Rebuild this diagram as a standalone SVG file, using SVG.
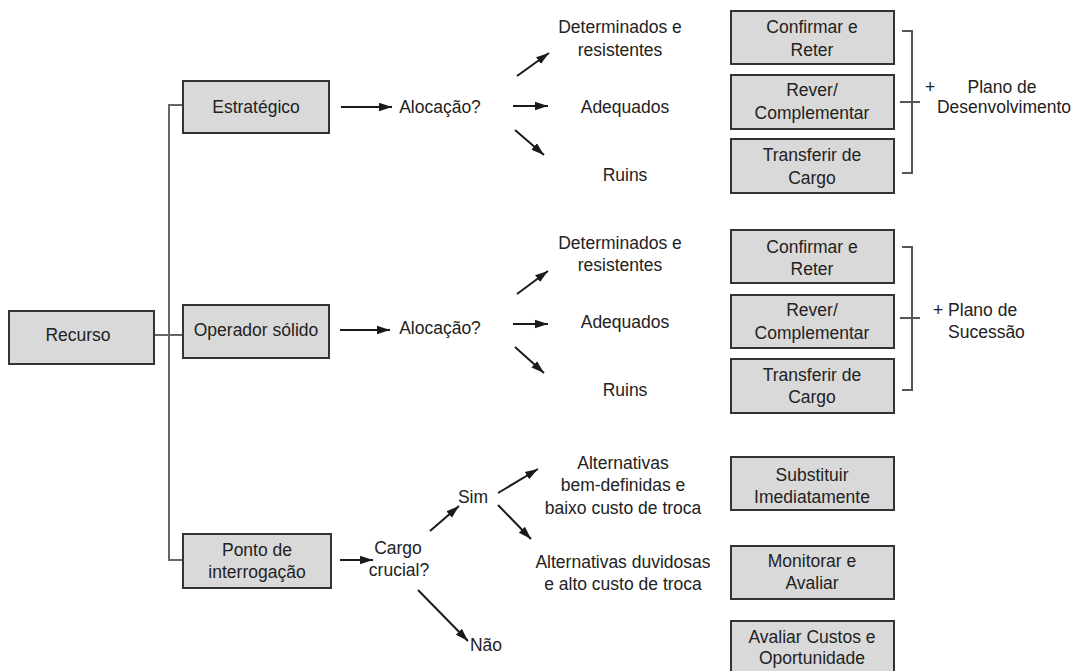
<svg xmlns="http://www.w3.org/2000/svg" width="1074" height="671" viewBox="0 0 1074 671">
  <defs>
    <marker id="head" markerWidth="14" markerHeight="10" refX="13" refY="5" orient="auto" markerUnits="userSpaceOnUse">
      <path d="M0,0.8 L13,5 L0,9.2 Z" fill="#1a1a1a"/>
    </marker>
    <style>
      .box { fill: #d9d9d9; stroke: #333; stroke-width: 2; }
      .lbl { font-family: "Liberation Sans", Arial, sans-serif; font-size: 17.5px; fill: #222; text-anchor: middle; }
      .lft { text-anchor: start; }
      .tree { fill: none; stroke: #666; stroke-width: 2; }
      .arr { fill: none; stroke: #1a1a1a; stroke-width: 2; marker-end: url(#head); }
      .brk { fill: none; stroke: #555; stroke-width: 2; }
    </style>
  </defs>
  <rect width="1074" height="671" fill="#fff"/>

  <!-- connectors -->
  <g id="connectors">
    <!-- main tree -->
    <path class="tree" d="M183,105 H169 V560 H183"/>
    <path class="tree" d="M154,335 H183"/>
    <!-- Estratégico branch -->
    <line class="arr" x1="341" y1="107" x2="392" y2="107"/>
    <line class="arr" x1="517" y1="76" x2="549" y2="53"/>
    <line class="arr" x1="513" y1="106" x2="548" y2="106"/>
    <line class="arr" x1="515" y1="130" x2="544" y2="155"/>
    <!-- Operador sólido branch -->
    <line class="arr" x1="340" y1="330" x2="390" y2="330"/>
    <line class="arr" x1="517" y1="294" x2="548" y2="271"/>
    <line class="arr" x1="513" y1="324" x2="548" y2="324"/>
    <line class="arr" x1="515" y1="347" x2="544" y2="373"/>
    <!-- Ponto de interrogação branch -->
    <line class="arr" x1="340" y1="560" x2="373" y2="560"/>
    <line class="arr" x1="430" y1="531" x2="459" y2="506"/>
    <line class="arr" x1="418" y1="590" x2="468" y2="641"/>
    <line class="arr" x1="498" y1="493" x2="538" y2="469"/>
    <line class="arr" x1="498" y1="505" x2="531" y2="539"/>
    <!-- brackets -->
    <path class="brk" d="M902,31 H912 V173 H902 M900,102 H920"/>
    <path class="brk" d="M902,247 H912 V390 H902 M900,318 H920"/>
  </g>

  <!-- root -->
  <g id="recurso">
    <rect class="box" x="9" y="311" width="145" height="53"/>
    <text class="lbl" x="78" y="341">Recurso</text>
  </g>

  <!-- first level -->
  <g id="estrategico">
    <rect class="box" x="183" y="81" width="146" height="52"/>
    <text class="lbl" x="256" y="113">Estratégico</text>
  </g>
  <g id="operador">
    <rect class="box" x="183" y="305" width="146" height="53"/>
    <text class="lbl" x="256" y="336">Operador sólido</text>
  </g>
  <g id="ponto">
    <rect class="box" x="183" y="534" width="148" height="54"/>
    <text class="lbl" x="257" y="556">Ponto de</text>
    <text class="lbl" x="257" y="578">interrogação</text>
  </g>

  <!-- questions -->
  <g id="alocacao1"><text class="lbl" x="440" y="113">Alocação?</text></g>
  <g id="alocacao2"><text class="lbl" x="440" y="334">Alocação?</text></g>
  <g id="cargo-crucial">
    <text class="lbl" x="398" y="554">Cargo</text>
    <text class="lbl" x="399" y="576">crucial?</text>
  </g>
  <g id="sim"><text class="lbl" x="473" y="503">Sim</text></g>
  <g id="nao"><text class="lbl" x="486" y="651">Não</text></g>

  <!-- answers, first block -->
  <g id="determinados1">
    <text class="lbl" x="620" y="33">Determinados e</text>
    <text class="lbl" x="620" y="56">resistentes</text>
  </g>
  <g id="adequados1"><text class="lbl" x="625" y="113">Adequados</text></g>
  <g id="ruins1"><text class="lbl" x="625" y="181">Ruins</text></g>

  <!-- answers, second block -->
  <g id="determinados2">
    <text class="lbl" x="620" y="249">Determinados e</text>
    <text class="lbl" x="620" y="271">resistentes</text>
  </g>
  <g id="adequados2"><text class="lbl" x="625" y="328">Adequados</text></g>
  <g id="ruins2"><text class="lbl" x="625" y="396">Ruins</text></g>

  <!-- answers, third block -->
  <g id="alternativas-boas">
    <text class="lbl" x="623" y="469">Alternativas</text>
    <text class="lbl" x="623" y="491">bem-definidas e</text>
    <text class="lbl" x="623" y="514">baixo custo de troca</text>
  </g>
  <g id="alternativas-duvidosas">
    <text class="lbl" x="623" y="568">Alternativas duvidosas</text>
    <text class="lbl" x="623" y="590">e alto custo de troca</text>
  </g>

  <!-- actions, first block -->
  <g id="confirmar1">
    <rect class="box" x="731" y="11" width="163" height="53"/>
    <text class="lbl" x="812" y="33">Confirmar e</text>
    <text class="lbl" x="812" y="56">Reter</text>
  </g>
  <g id="rever1">
    <rect class="box" x="731" y="75" width="163" height="54"/>
    <text class="lbl" x="812" y="96">Rever/</text>
    <text class="lbl" x="812" y="119">Complementar</text>
  </g>
  <g id="transferir1">
    <rect class="box" x="731" y="139" width="163" height="54"/>
    <text class="lbl" x="812" y="161">Transferir de</text>
    <text class="lbl" x="812" y="184">Cargo</text>
  </g>
  <g id="plano-desenvolvimento">
    <text class="lbl" x="930" y="93">+</text>
    <text class="lbl" x="1002" y="93">Plano de</text>
    <text class="lbl" x="1004" y="113">Desenvolvimento</text>
  </g>

  <!-- actions, second block -->
  <g id="confirmar2">
    <rect class="box" x="731" y="230" width="163" height="53"/>
    <text class="lbl" x="812" y="253">Confirmar e</text>
    <text class="lbl" x="812" y="275">Reter</text>
  </g>
  <g id="rever2">
    <rect class="box" x="731" y="295" width="163" height="53"/>
    <text class="lbl" x="812" y="316">Rever/</text>
    <text class="lbl" x="812" y="339">Complementar</text>
  </g>
  <g id="transferir2">
    <rect class="box" x="731" y="359" width="163" height="54"/>
    <text class="lbl" x="812" y="381">Transferir de</text>
    <text class="lbl" x="812" y="403">Cargo</text>
  </g>
  <g id="plano-sucessao">
    <text class="lbl lft" x="933" y="316">+ Plano de</text>
    <text class="lbl lft" x="948" y="338">Sucessão</text>
  </g>

  <!-- actions, third block -->
  <g id="substituir">
    <rect class="box" x="731" y="457" width="163" height="53"/>
    <text class="lbl" x="812" y="481">Substituir</text>
    <text class="lbl" x="812" y="503">Imediatamente</text>
  </g>
  <g id="monitorar">
    <rect class="box" x="731" y="546" width="163" height="53"/>
    <text class="lbl" x="812" y="567">Monitorar e</text>
    <text class="lbl" x="812" y="589">Avaliar</text>
  </g>
  <g id="avaliar-custos">
    <rect class="box" x="731" y="621" width="163" height="53"/>
    <text class="lbl" x="812" y="643">Avaliar Custos e</text>
    <text class="lbl" x="812" y="664">Oportunidade</text>
  </g>
</svg>
